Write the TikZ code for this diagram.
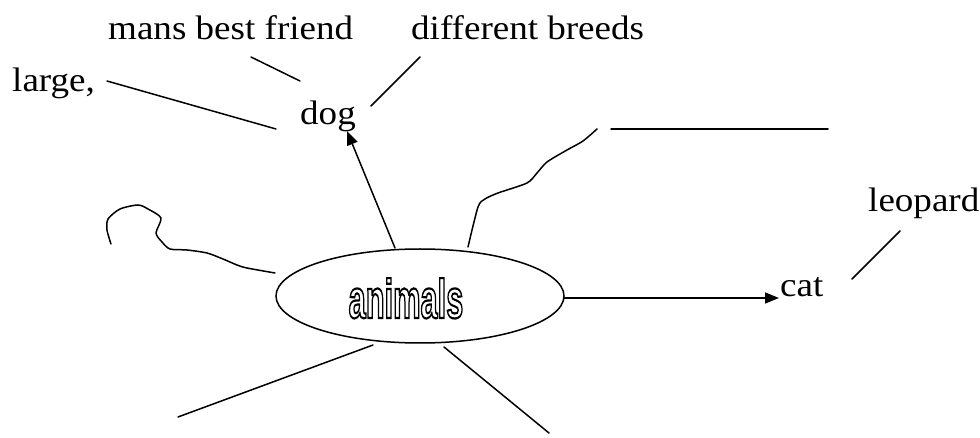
\documentclass[tikz,border=0pt]{standalone}
\usepackage{fontspec}
\setmainfont{Liberation Serif}
\newfontfamily\animfont{Liberation Sans}
\usepackage{graphicx}
\usetikzlibrary{arrows.meta,shapes.geometric}
\newcommand\stretchx[1]{\scalebox{1.09}[1]{#1}}
\newcommand\outlinetext[1]{\special{pdf:literal direct 1 Tr 2.2 w}#1\special{pdf:literal direct 0 Tr}}
\tikzset{
  lbl/.style={anchor=base west, inner sep=0pt, font=\fontsize{34}{40}\selectfont},
  conn/.style={line width=1.5pt, line cap=round, line join=round},
  arr/.style={conn, -{Triangle[length=14pt,width=11pt]}},
  bubble/.style={draw, ellipse, line width=1.5pt, inner sep=0pt,
    minimum width=288pt, minimum height=94pt}
}
\begin{document}
\begin{tikzpicture}[x=1pt,y=-1pt]
\useasboundingbox (0,0) rectangle (980,438);
% central ellipse
\node[bubble] (animals) at (420,296) {};
\node[inner sep=0pt, anchor=base, font=\animfont\bfseries\fontsize{55}{60}\selectfont]
  (animalstxt) at (406,318) {\scalebox{0.56}[1]{\outlinetext{animals}}};
% labels
\node[lbl] (mans) at (108,40) {\stretchx{mans best friend}};
\node[lbl] (breeds) at (411,40) {\stretchx{different breeds}};
\node[lbl] (large) at (12,92) {\stretchx{large,}};
\node[lbl] (dog) at (300,125) {\stretchx{dog}};
\node[lbl] (cat) at (780,297) {\stretchx{cat}};
\node[lbl] (leopard) at (868,212) {\stretchx{leopard}};
% connector end points
\coordinate (l1a) at (107,81);  \coordinate (l1b) at (276,129);
\coordinate (m1a) at (251,57);  \coordinate (m1b) at (300,81);
\coordinate (d1a) at (420,57);  \coordinate (d1b) at (371,106);
\coordinate (dogS) at (395,248); \coordinate (dogT) at (347,131);
\coordinate (catS) at (564,298); \coordinate (catT) at (779,298);
\coordinate (hA) at (611,129);  \coordinate (hB) at (828,129);
\coordinate (lpA) at (900,231); \coordinate (lpB) at (852,279);
\coordinate (blA) at (373,345); \coordinate (blB) at (178,417);
\coordinate (brA) at (444,347); \coordinate (brB) at (549,433);
% straight connectors
\draw[conn] (l1a) -- (l1b);
\draw[conn] (m1a) -- (m1b);
\draw[conn] (d1a) -- (d1b);
\draw[arr] (dogS) -- (dogT);
\draw[arr] (catS) -- (catT);
\draw[conn] (hA) -- (hB);
\draw[conn] (lpA) -- (lpB);
\draw[conn] (blA) -- (blB);
\draw[conn] (brA) -- (brB);
% wavy lines
\draw[conn] plot[smooth, tension=0.45] coordinates {(468,247) (478,207) (485,199) (498,193) (527,183) (537,173) (547,162) (567,150) (583,141) (597,129)};
\draw[conn] plot[smooth, tension=0.45] coordinates {(111,244) (107,230) (108,219) (120,209) (138,205) (148,209) (161,218) (156,233) (162,242) (170,249) (187,250) (207,253) (223,259) (237,265) (247,268) (275,273)};
\end{tikzpicture}
\end{document}
